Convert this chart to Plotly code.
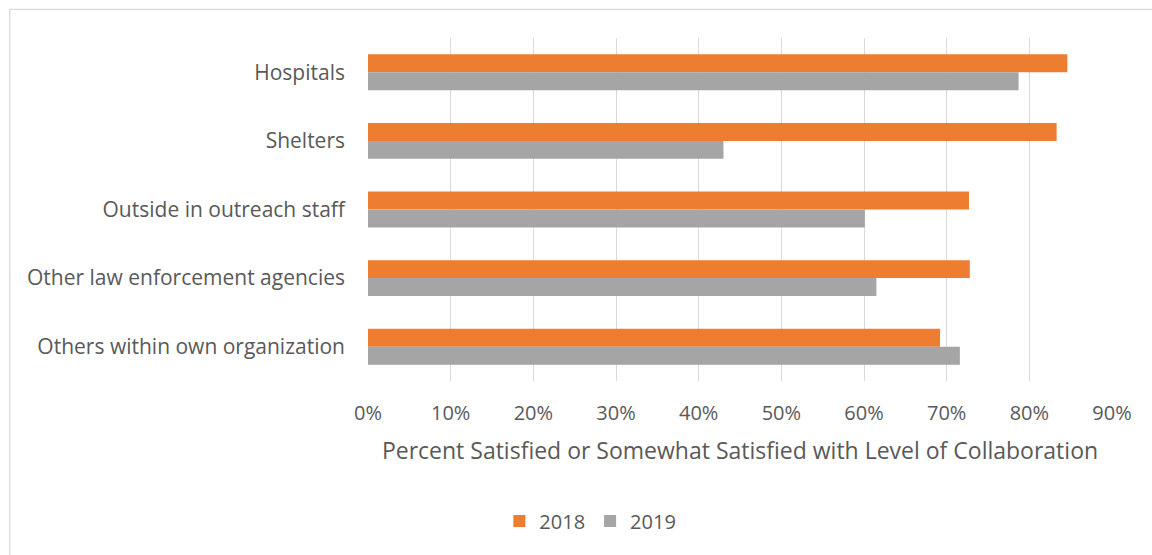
import plotly.graph_objects as go

categories = ["Hospitals", "Shelters", "Outside in outreach staff",
              "Other law enforcement agencies", "Others within own organization"]
values_2018 = [0.846, 0.833, 0.727, 0.728, 0.692]
values_2019 = [0.787, 0.430, 0.601, 0.615, 0.716]
x_ticks = [0, 0.1, 0.2, 0.3, 0.4, 0.5, 0.6, 0.7, 0.8, 0.9]
x_tick_labels = ["0%", "10%", "20%", "30%", "40%", "50%", "60%", "70%", "80%", "90%"]

W, H = 1152, 555
L, R, T, B = 367.5, 1112, 37.7, 381

fig = go.Figure()
fig.add_trace(go.Bar(y=categories, x=values_2018, name="2018", orientation="h",
                     marker=dict(color="#ED7D31", line=dict(width=0))))
fig.add_trace(go.Bar(y=categories, x=values_2019, name="2019", orientation="h",
                     marker=dict(color="#A5A5A5", line=dict(width=0))))

pw = R - L
ph = B - T
fig.update_layout(
    width=W, height=H,
    margin=dict(l=L, r=W - R, t=T, b=H - B, pad=0),
    paper_bgcolor="white", plot_bgcolor="white",
    barmode="group", bargap=0.476, bargroupgap=0,
    font=dict(family="Open Sans", size=20, color="#595959"),
    xaxis=dict(range=[0, 0.9], tickvals=x_ticks, ticktext=x_tick_labels,
               showgrid=True, gridcolor="#D9D9D9", gridwidth=1.3,
               zeroline=False, showline=False, ticks="",
               tickfont=dict(size=20),
               ticklabelstandoff=18,
               title=dict(text="Percent Satisfied or Somewhat Satisfied with Level of Collaboration",
                          font=dict(size=23, color="#595959"), standoff=17)),
    yaxis=dict(autorange="reversed", showgrid=False, zeroline=False, showline=False,
               ticks="", ticklabelstandoff=22, tickfont=dict(size=21)),
    legend=dict(orientation="h", xanchor="center", yanchor="middle",
                x=(590 - L) / pw, y=(B - 521) / ph,
                font=dict(size=20, color="#595959"),
                itemwidth=30, tracegroupgap=0),
    showlegend=True,
    shapes=[dict(type="rect", xref="paper", yref="paper",
                 x0=(9 - L) / pw, x1=(1160 - L) / pw,
                 y0=(B - 565) / ph, y1=(B - 9) / ph,
                 line=dict(color="#D9D9D9", width=1.3), fillcolor="rgba(0,0,0,0)",
                 layer="below")],
)

fig.write_html("out.html")
